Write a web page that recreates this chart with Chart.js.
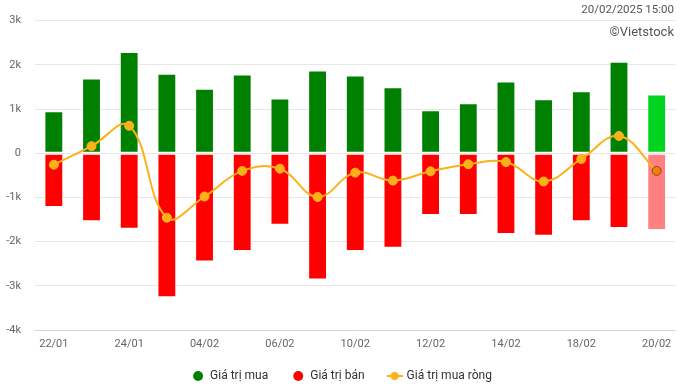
<!DOCTYPE html>
<html>
<head>
<meta charset="utf-8">
<script src="https://cdn.jsdelivr.net/npm/chart.js@4.4.1/dist/chart.umd.min.js"></script>
<style>
  html, body { margin: 0; padding: 0; background: #fff; }
  #wrap { width: 681px; height: 388px; position: relative; }
</style>
</head>
<body>
<div id="wrap"><canvas id="chart" width="681" height="388"></canvas></div>
<script>
// ngày giao dịch
const ngay = ["22/01", "23/01", "24/01", "03/02", "04/02", "05/02", "06/02", "07/02", "10/02",
  "11/02", "12/02", "13/02", "14/02", "17/02", "18/02", "19/02", "20/02"];

// đơn vị: tỷ đồng
const giaTriMua = [950, 1690, 2290, 1800, 1460, 1780, 1240, 1870, 1760, 1490, 970, 1130, 1620, 1220, 1400, 2070, 1330];
const giaTriBan = [-1220, -1540, -1710, -3260, -2450, -2210, -1620, -2860, -2210, -2140, -1400, -1400, -1830, -1870, -1540, -1690, -1740];
const muaRong = [-260, 160, 620, -1460, -980, -400, -350, -990, -440, -620, -410, -250, -200, -640, -130, 390, -400];

const yTicks = [-4000, -3000, -2000, -1000, 0, 1000, 2000, 3000];

const last = ngay.length - 1;

// ================= LEGEND ICON =================
function lineIcon(color) {
  const c = document.createElement("canvas");
  c.width = 16; c.height = 10;
  const g = c.getContext("2d");
  g.strokeStyle = color; g.lineWidth = 2;
  g.beginPath(); g.moveTo(0, 5); g.lineTo(16, 5); g.stroke();
  g.fillStyle = color;
  g.beginPath(); g.arc(8, 5, 4, 0, Math.PI * 2); g.fill();
  return c;
}

// ================= HEADER TEXT =================
const headerText = {
  id: "headerText",
  afterLayout(chart) {
    // legend sát trục x hơn
    chart.legend.top -= 8;
    chart.legend.bottom -= 8;
    chart.legend.left += 4;
    chart.legend.right += 4;
  },
  afterDraw(chart) {
    const g = chart.ctx;
    g.save();
    g.font = "11.5px Roboto";
    g.fillStyle = "#555";
    g.textAlign = "right";
    g.textBaseline = "middle";
    g.fillText("20/02/2025 15:00", 674, 10);
    g.font = "13px Roboto";
    g.fillText("©Vietstock", 674, 33);
    g.restore();
  }
};

new Chart(document.getElementById("chart"), {
  data: {
    labels: ngay,
    datasets: [
      {
        type: "line",
        label: "Giá trị mua ròng",
        data: muaRong,
        order: 1,
        borderColor: "#fbb21a",
        borderWidth: 2,
        tension: 0.4,
        pointRadius: 4.5,
        pointBackgroundColor: ctx => ctx.dataIndex === last ? "#f57d10" : "#fbb21a",
        pointBorderColor: ctx => ctx.dataIndex === last ? "#8a4a14" : "#fbb21a",
        pointBorderWidth: 1
      },
      {
        type: "bar",
        label: "Giá trị mua",
        data: giaTriMua,
        order: 2,
        grouped: false,
        backgroundColor: ctx => ctx.dataIndex === last ? "#00d41f" : "#008000",
        borderColor: "#ffffff",
        borderWidth: 1,
        borderSkipped: false,
        categoryPercentage: 1,
        barPercentage: 0.5
      },
      {
        type: "bar",
        label: "Giá trị bán",
        data: giaTriBan,
        order: 2,
        grouped: false,
        backgroundColor: ctx => ctx.dataIndex === last ? "#ff8080" : "#ff0000",
        borderColor: "#ffffff",
        borderWidth: 1,
        borderSkipped: false,
        categoryPercentage: 1,
        barPercentage: 0.5
      }
    ]
  },
  options: {
    responsive: false,
    animation: false,
    layout: { padding: { top: 13, right: 5, left: 0, bottom: -12 } },
    plugins: {
      tooltip: { enabled: false },
      legend: {
        position: "bottom",
        labels: {
          usePointStyle: true,
          boxHeight: 7,
          color: "#333",
          font: { family: "Roboto", size: 12 },
          padding: 24,
          sort: (a, b) => [1, 2, 0].indexOf(a.datasetIndex) - [1, 2, 0].indexOf(b.datasetIndex),
          generateLabels(chart) {
            return chart.data.datasets.map((ds, i) => ({
              text: ds.label,
              datasetIndex: i,
              fillStyle: i === 1 ? "#008000" : i === 2 ? "#ff0000" : "#fbb21a",
              strokeStyle: "transparent",
              lineWidth: 0,
              pointStyle: i === 0 ? lineIcon("#fbb21a") : "circle",
              fontColor: "#333"
            }));
          }
        }
      }
    },
    scales: {
      x: {
        afterFit(scale) { scale.height = 24; },
        grid: { display: false, drawTicks: false },
        border: { display: false },
        ticks: {
          autoSkip: false,
          maxRotation: 0,
          padding: 8,
          color: "#666",
          font: { family: "Roboto", size: 11 },
          callback(v, i) { return i % 2 === 0 ? ngay[i] : ""; }
        }
      },
      y: {
        min: -4000,
        max: 3000,
        afterFit(scale) { scale.width = 35; },
        afterBuildTicks(scale) { scale.ticks = yTicks.map(v => ({ value: v })); },
        grid: {
          color: ctx => ctx.tick && ctx.tick.value === -4000 ? "#ccd6eb" : "#e6e6e6",
          drawTicks: false
        },
        border: { display: false },
        ticks: {
          padding: 14,
          color: "#666",
          font: { family: "Roboto", size: 11 },
          callback(v) { return v === 0 ? "0" : (v / 1000) + "k"; }
        }
      }
    }
  },
  plugins: [headerText]
});
</script>
</body>
</html>
